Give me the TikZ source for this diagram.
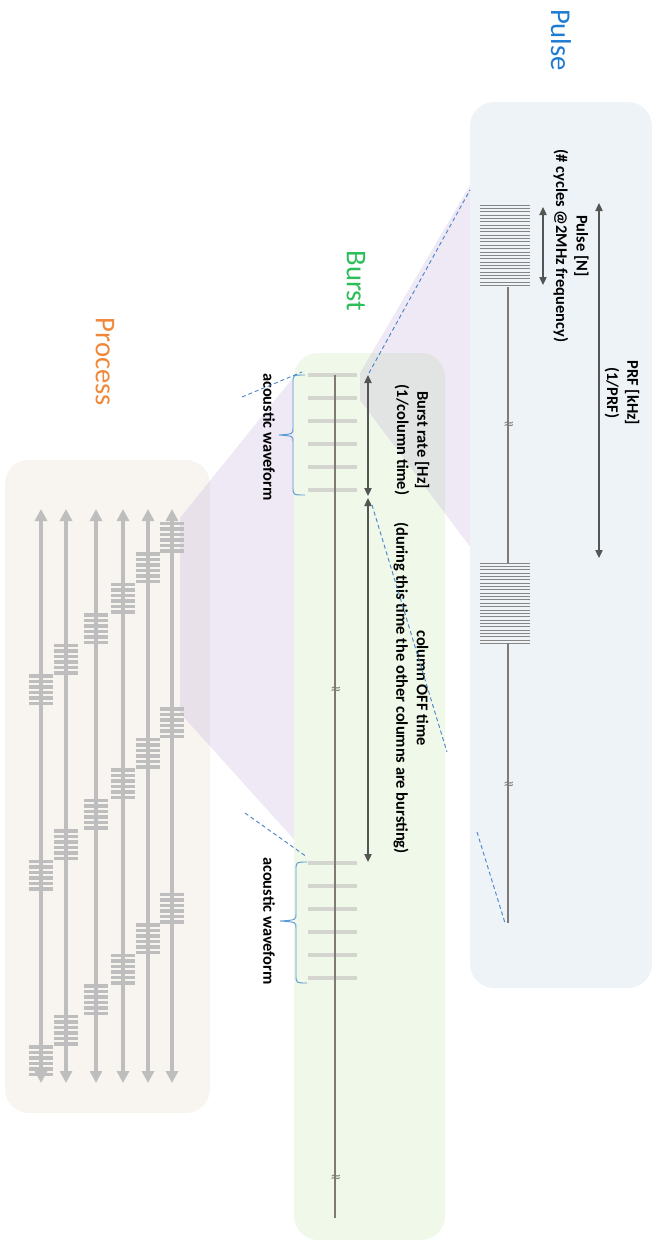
\documentclass[tikz,border=0pt]{standalone}
\usepackage{fontspec}
\setmainfont{Carlito}
\newfontfamily\symfont{DejaVu Sans}
\usetikzlibrary{arrows.meta}
\definecolor{pulsebg}{HTML}{EEF3F8}
\definecolor{burstbg}{HTML}{EFF8E9}
\definecolor{procbg}{HTML}{F8F4F0}
\definecolor{wedge}{HTML}{C6B6DA}
\definecolor{pulsetitle}{HTML}{1E7BD2}
\definecolor{bursttitle}{HTML}{2DBE5A}
\definecolor{proctitle}{HTML}{F0883A}
\definecolor{arrowgray}{HTML}{555555}
\definecolor{linegray}{HTML}{7D7B74}
\definecolor{bargray}{HTML}{D3D5CE}
\definecolor{procgray}{HTML}{BEBEBE}
\definecolor{coilgray}{HTML}{858585}
\definecolor{dashblue}{HTML}{4A86C8}
\definecolor{braceblue}{HTML}{5B9BD5}
\begin{document}
\begin{tikzpicture}[x=0.75pt,y=-0.75pt,
  panel/.style={rounded corners=18pt, draw=none},
  title/.style={rotate=-90, font=\fontsize{21.5}{24}\selectfont, inner sep=0pt},
  lbl/.style={rotate=-90, font=\bfseries\fontsize{12.3}{15.3}\selectfont, align=center, inner sep=0pt},
  dimarrow/.style={draw=arrowgray, line width=0.9pt, {Triangle[length=6pt,width=5.5pt]}-{Triangle[length=6pt,width=5.5pt]}},
  zoomline/.style={draw=dashblue, line width=0.7pt, dash pattern=on 3pt off 2.2pt},
  bracepath/.style={draw=braceblue, line width=0.7pt},
  wedgefill/.style={fill=wedge, fill opacity=0.3, draw=none},
  procarrow/.style={draw=procgray, line width=3pt, {Triangle[length=9pt,width=9pt]}-{Triangle[length=9pt,width=9pt]}},
  coilline/.style={draw=coilgray, line width=0.6pt},
  thinaxis/.style={draw=linegray, line width=1.1pt},
  thickaxis/.style={draw=linegray, line width=2.2pt},
  burstbar/.style={draw=bargray, line width=2.8pt},
  breakmark/.style={font=\symfont\fontsize{10}{10}\selectfont, text=linegray, inner sep=0pt}
]
\useasboundingbox (0,0) rectangle (652,1242);

% ---------- Process panel ----------
\fill[panel, procbg] (5,460) rectangle (210,1113);
\node[title, text=proctitle] (proctitle) at (105,362) {Process};

% process -> burst zoom wedge
\fill[wedgefill] (180,518) -- (300,369) -- (300,846) -- (180,713) -- cycle;

\foreach \k/\x in {0/172,1/148,2/123,3/96,4/66,5/41} {
  \coordinate (pt\k) at (\x,509);
  \coordinate (pb\k) at (\x,1083);
  \draw[procarrow] (pt\k) -- (pb\k);
  \foreach \j in {0,1,2} {
    \foreach \i in {0,...,5} {
      \pgfmathsetmacro\yy{523.5+30.5*\k+185.5*\j+5.5*\i}
      \fill[procgray] (\x-12,\yy-1.6) rectangle (\x+12,\yy+1.6);
    }
  }
}

% ---------- Burst panel ----------
\fill[panel, burstbg] (294,353) rectangle (445,1240);
\node[title, text=bursttitle] (bursttitle) at (356,281) {Burst};

% burst -> pulse zoom wedge
\fill[wedgefill] (360,373) -- (480,168) -- (480,560) -- (360,400) -- cycle;

% bars
\foreach \yy in {375,398,421,444,467,490,863,886,909,932,955,978} {
  \draw[burstbar] (308,\yy) -- (357,\yy);
}
% axis
\coordinate (ba0) at (335,375);
\coordinate (ba1) at (335,490);
\coordinate (ba2) at (335,863);
\coordinate (ba3) at (335,983);
\coordinate (ba4) at (335,1218);
\draw[thinaxis] (ba0) -- (ba1);
\draw[thickaxis] (ba1) -- (ba2);
\draw[thinaxis] (ba2) -- (ba3);
\draw[thickaxis] (ba3) -- (ba4);
\node[breakmark] (bbreak1) at (336,690) {≈};
\node[breakmark] (bbreak2) at (336,1178) {≈};

% burst dimension arrows
\coordinate (br0) at (368,375);
\coordinate (br1) at (368,496);
\coordinate (br2) at (368,498);
\coordinate (br3) at (368,862);
\draw[dimarrow] (br0) -- (br1);
\draw[dimarrow] (br2) -- (br3);

\node[lbl] (burstrate) at (412,440) {Burst rate [Hz]\\(1/column time)};
\node[lbl] (offtime) at (411,688) {column OFF time\\(during this time the other columns are bursting)};

% braces
\draw[bracepath] (305,375) .. controls (293,375) .. (293,382) -- (293,428) .. controls (293,434) .. (279,435) .. controls (293,436) .. (293,442) -- (293,487) .. controls (293,495) .. (305,495);
\draw[bracepath] (307,862) .. controls (296,862) .. (296,870) -- (296,914) .. controls (296,920) .. (280,921) .. controls (296,922) .. (296,928) -- (296,975) .. controls (296,983) .. (307,983);
\node[lbl] (aw1) at (269,437) {acoustic waveform};
\node[lbl] (aw2) at (269,921) {acoustic waveform};

% ---------- Pulse panel ----------
\fill[panel, pulsebg] (470,102) rectangle (652,988);
\node[title, text=pulsetitle] (pulsetitle) at (561,40) {Pulse};

% coils
\foreach \i in {0,...,24} {
  \draw[coilline] (480,205+3.35*\i) -- (530,205+3.35*\i);
  \draw[coilline] (480,563+3.35*\i) -- (530,563+3.35*\i);
}
\coordinate (pl0) at (508,287);
\coordinate (pl1) at (508,563);
\coordinate (pl2) at (508,643);
\coordinate (pl3) at (508,923);
\draw[draw=linegray, line width=1.5pt] (pl0) -- (pl1);
\draw[draw=linegray, line width=2.2pt] (pl2) -- (pl3);
\node[breakmark] (pbreak1) at (509,425) {≈};
\node[breakmark] (pbreak2) at (509,785) {≈};

\coordinate (pn0) at (543,207);
\coordinate (pn1) at (543,285);
\coordinate (prf0) at (599,203);
\coordinate (prf1) at (599,558);
\draw[dimarrow] (pn0) -- (pn1);
\draw[dimarrow] (prf0) -- (prf1);

\node[lbl] (pulsen) at (571,246) {Pulse [N]\\(\# cycles @2MHz frequency)};
\node[lbl] (prf) at (622,393) {PRF [kHz]\\(1/PRF)};

% ---------- dashed zoom lines ----------
\coordinate (z1a) at (369,373);
\coordinate (z1b) at (470,190);
\coordinate (z2a) at (372,505);
\coordinate (z2b) at (447,752);
\coordinate (z3a) at (477,832);
\coordinate (z3b) at (505,923);
\coordinate (z4a) at (245,813);
\coordinate (z4b) at (307,857);
\coordinate (z5a) at (242,397);
\coordinate (z5b) at (302,372);
\draw[zoomline] (z1a) -- (z1b);
\draw[zoomline] (z2a) -- (z2b);
\draw[zoomline] (z3a) -- (z3b);
\draw[zoomline] (z4a) -- (z4b);
\draw[zoomline] (z5a) -- (z5b);
\end{tikzpicture}
\end{document}
